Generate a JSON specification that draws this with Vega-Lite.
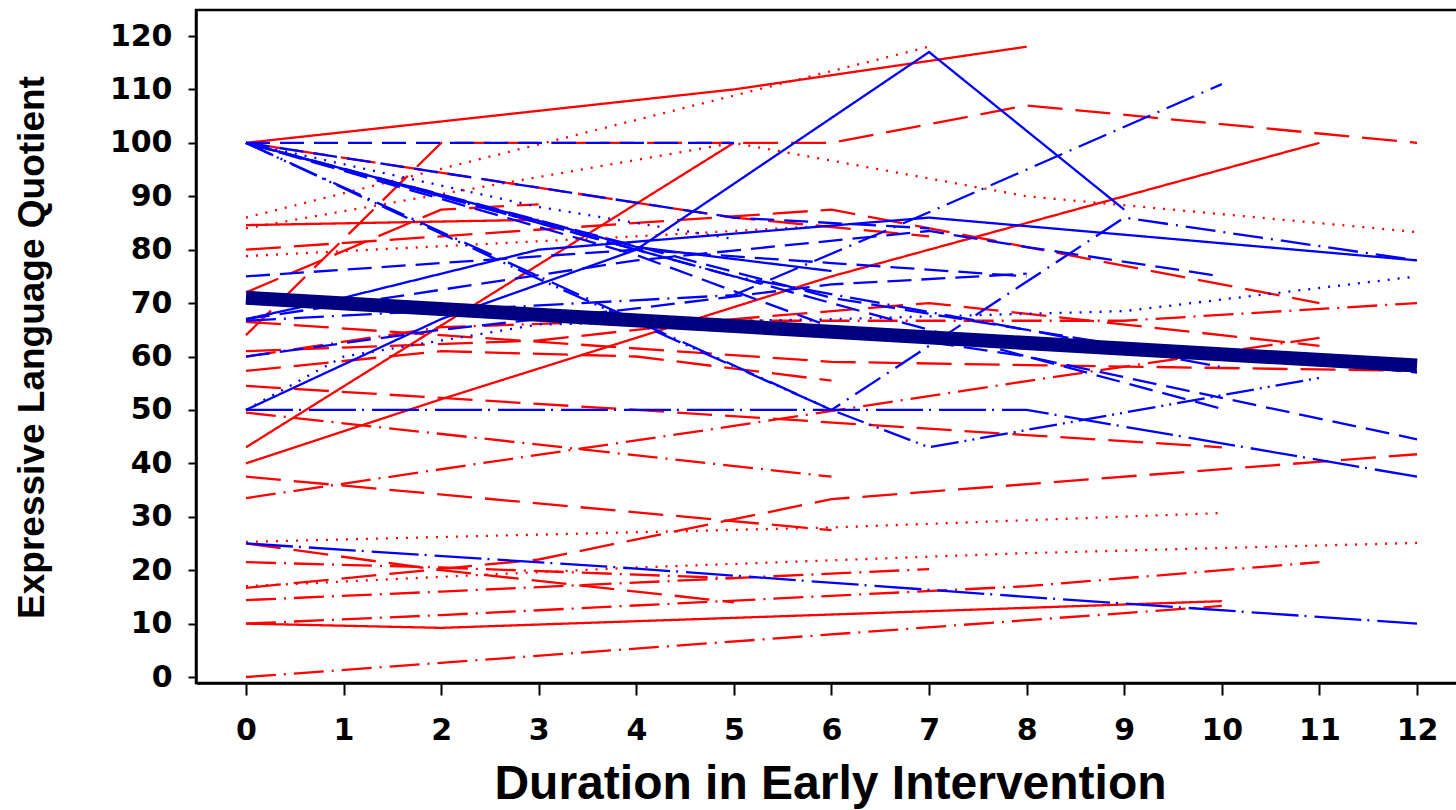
{
  "$schema": "https://vega.github.io/schema/vega-lite/v6.json",
  "width": 1262,
  "height": 673,
  "autosize": "none",
  "padding": {"left": 196, "top": 10, "right": 0, "bottom": 127},
  "background": "white",
  "config": {
    "view": {"stroke": "black", "strokeWidth": 2.5},
    "axis": {"grid": false, "domainColor": "black", "domainWidth": 2.5, "tickColor": "black", "tickWidth": 2, "labelFont": "DejaVu Sans", "labelFontWeight": "bold", "labelFontSize": 30, "labelColor": "black", "titleFont": "Liberation Sans", "titleFontWeight": "bold", "titleColor": "black"}
  },
  "datasets": {
    "mean": [
      {"x": 0, "y": 71}, {"x": 12, "y": 58.3}
    ],
    "kids": [
      {"id":"r1","g":"r","s":"solid","x":0,"y":100},{"id":"r1","g":"r","s":"solid","x":5,"y":110},{"id":"r1","g":"r","s":"solid","x":8,"y":118},
      {"id":"r2","g":"r","s":"dot","x":0,"y":86},{"id":"r2","g":"r","s":"dot","x":7,"y":118},
      {"id":"r3","g":"r","s":"dash","x":0,"y":64},{"id":"r3","g":"r","s":"dash","x":2,"y":100},{"id":"r3","g":"r","s":"dash","x":6,"y":100},{"id":"r3","g":"r","s":"dash","x":8,"y":107},{"id":"r3","g":"r","s":"dash","x":12,"y":100},
      {"id":"r4","g":"r","s":"solid","x":0,"y":43},{"id":"r4","g":"r","s":"solid","x":5,"y":100},
      {"id":"r5","g":"r","s":"solid","x":0,"y":40},{"id":"r5","g":"r","s":"solid","x":2,"y":52},{"id":"r5","g":"r","s":"solid","x":6,"y":75},{"id":"r5","g":"r","s":"solid","x":8,"y":85},{"id":"r5","g":"r","s":"solid","x":11,"y":100},
      {"id":"r6","g":"r","s":"dot","x":0,"y":84},{"id":"r6","g":"r","s":"dot","x":5,"y":100},{"id":"r6","g":"r","s":"dot","x":8,"y":90},{"id":"r6","g":"r","s":"dot","x":12,"y":83.3},
      {"id":"r7","g":"r","s":"solid","x":0,"y":84.6},{"id":"r7","g":"r","s":"solid","x":3,"y":85.6},
      {"id":"r8","g":"r","s":"dash","x":0,"y":80},{"id":"r8","g":"r","s":"dash","x":6,"y":87.5},{"id":"r8","g":"r","s":"dash","x":11,"y":70},
      {"id":"r9","g":"r","s":"dash","x":0,"y":100},{"id":"r9","g":"r","s":"dash","x":5,"y":86},{"id":"r9","g":"r","s":"dash","x":7,"y":82.5},
      {"id":"r10","g":"r","s":"dashdot","x":0,"y":49.5},{"id":"r10","g":"r","s":"dashdot","x":6,"y":37.5},
      {"id":"r11","g":"r","s":"dash","x":0,"y":37.5},{"id":"r11","g":"r","s":"dash","x":6,"y":27.5},
      {"id":"r12","g":"r","s":"dashdot","x":0,"y":33.5},{"id":"r12","g":"r","s":"dashdot","x":5,"y":47},{"id":"r12","g":"r","s":"dashdot","x":8,"y":55.4},{"id":"r12","g":"r","s":"dashdot","x":11,"y":63.5},
      {"id":"r13","g":"r","s":"dot","x":0,"y":25.3},{"id":"r13","g":"r","s":"dot","x":6,"y":28},{"id":"r13","g":"r","s":"dot","x":10,"y":30.7},
      {"id":"r14","g":"r","s":"dash","x":0,"y":25},{"id":"r14","g":"r","s":"dash","x":2,"y":20},{"id":"r14","g":"r","s":"dash","x":5,"y":14},
      {"id":"r15","g":"r","s":"dashdot","x":0,"y":14.4},{"id":"r15","g":"r","s":"dashdot","x":2,"y":16},{"id":"r15","g":"r","s":"dashdot","x":7,"y":20.2},
      {"id":"r16","g":"r","s":"dot","x":0,"y":17},{"id":"r16","g":"r","s":"dot","x":4,"y":20.5},{"id":"r16","g":"r","s":"dot","x":8,"y":23.2},{"id":"r16","g":"r","s":"dot","x":12,"y":25.1},
      {"id":"r17","g":"r","s":"dash","x":0,"y":16.7},{"id":"r17","g":"r","s":"dash","x":3,"y":22},{"id":"r17","g":"r","s":"dash","x":6,"y":33.3},{"id":"r17","g":"r","s":"dash","x":12,"y":41.7},
      {"id":"r18","g":"r","s":"dashdot","x":0,"y":10},{"id":"r18","g":"r","s":"dashdot","x":2,"y":11.6},{"id":"r18","g":"r","s":"dashdot","x":8,"y":17},{"id":"r18","g":"r","s":"dashdot","x":11,"y":21.5},
      {"id":"r19","g":"r","s":"dashdot","x":0,"y":21.5},{"id":"r19","g":"r","s":"dashdot","x":2,"y":20.5},{"id":"r19","g":"r","s":"dashdot","x":5,"y":18.5},
      {"id":"r20","g":"r","s":"solid","x":0,"y":10},{"id":"r20","g":"r","s":"solid","x":2,"y":9.2},{"id":"r20","g":"r","s":"solid","x":10,"y":14.2},
      {"id":"r21","g":"r","s":"dashdot","x":0,"y":0},{"id":"r21","g":"r","s":"dashdot","x":10,"y":13.3},
      {"id":"r22","g":"r","s":"dash","x":0,"y":66.5},{"id":"r22","g":"r","s":"dash","x":6,"y":59},{"id":"r22","g":"r","s":"dash","x":8,"y":58.4},{"id":"r22","g":"r","s":"dash","x":12,"y":57.3},
      {"id":"r23","g":"r","s":"dash","x":0,"y":54.5},{"id":"r23","g":"r","s":"dash","x":4,"y":50},{"id":"r23","g":"r","s":"dash","x":8,"y":45.3},{"id":"r23","g":"r","s":"dash","x":10,"y":43},
      {"id":"r24","g":"r","s":"dash","x":0,"y":57.3},{"id":"r24","g":"r","s":"dash","x":2,"y":61},{"id":"r24","g":"r","s":"dash","x":4,"y":60},{"id":"r24","g":"r","s":"dash","x":6,"y":55.5},
      {"id":"r25","g":"r","s":"dashdot","x":0,"y":60},{"id":"r25","g":"r","s":"dashdot","x":2,"y":65.5},{"id":"r25","g":"r","s":"dashdot","x":4,"y":66.7},{"id":"r25","g":"r","s":"dashdot","x":9,"y":66.7},{"id":"r25","g":"r","s":"dashdot","x":12,"y":70},
      {"id":"r26","g":"r","s":"dash","x":0,"y":61},{"id":"r26","g":"r","s":"dash","x":3,"y":63},{"id":"r26","g":"r","s":"dash","x":5,"y":67},{"id":"r26","g":"r","s":"dash","x":7,"y":70},{"id":"r26","g":"r","s":"dash","x":11,"y":62},
      {"id":"r27","g":"r","s":"dash","x":0,"y":72},{"id":"r27","g":"r","s":"dash","x":2,"y":87.5},{"id":"r27","g":"r","s":"dash","x":3,"y":88.5},
      {"id":"r28","g":"r","s":"dot","x":0,"y":78.8},{"id":"r28","g":"r","s":"dot","x":4,"y":82.5},{"id":"r28","g":"r","s":"dot","x":6,"y":84.5},
      {"id":"b1","g":"b","s":"bdash","x":0,"y":100},{"id":"b1","g":"b","s":"bdash","x":5,"y":100},
      {"id":"b2","g":"b","s":"bdash","x":0,"y":100},{"id":"b2","g":"b","s":"bdash","x":5,"y":86},{"id":"b2","g":"b","s":"bdash","x":7,"y":84},
      {"id":"b3","g":"b","s":"solid","x":0,"y":100},{"id":"b3","g":"b","s":"solid","x":4,"y":80.5},{"id":"b3","g":"b","s":"solid","x":6,"y":76},
      {"id":"b4","g":"b","s":"dashdot","x":0,"y":100},{"id":"b4","g":"b","s":"dashdot","x":3,"y":75},{"id":"b4","g":"b","s":"dashdot","x":6,"y":50},{"id":"b4","g":"b","s":"dashdot","x":9,"y":86},{"id":"b4","g":"b","s":"dashdot","x":12,"y":78},
      {"id":"b5","g":"b","s":"dashdotdot","x":0,"y":100},{"id":"b5","g":"b","s":"dashdotdot","x":3,"y":74.5},{"id":"b5","g":"b","s":"dashdotdot","x":6,"y":50},{"id":"b5","g":"b","s":"dashdotdot","x":7,"y":43},{"id":"b5","g":"b","s":"dashdotdot","x":11,"y":56},
      {"id":"b6","g":"b","s":"bdash","x":0,"y":100},{"id":"b6","g":"b","s":"bdash","x":8,"y":60},{"id":"b6","g":"b","s":"bdash","x":12,"y":44.5},
      {"id":"b7","g":"b","s":"bdash","x":0,"y":100},{"id":"b7","g":"b","s":"bdash","x":6,"y":71},{"id":"b7","g":"b","s":"bdash","x":9,"y":62},{"id":"b7","g":"b","s":"bdash","x":12,"y":57},
      {"id":"b8","g":"b","s":"dashdot","x":0,"y":100},{"id":"b8","g":"b","s":"dashdot","x":5,"y":75},{"id":"b8","g":"b","s":"dashdot","x":8,"y":65},{"id":"b8","g":"b","s":"dashdot","x":10,"y":58},
      {"id":"b9","g":"b","s":"bdash","x":0,"y":100},{"id":"b9","g":"b","s":"bdash","x":4,"y":79},{"id":"b9","g":"b","s":"bdash","x":6,"y":65.5},{"id":"b9","g":"b","s":"bdash","x":8,"y":60},{"id":"b9","g":"b","s":"bdash","x":10,"y":50.2},
      {"id":"b10","g":"b","s":"bdash","x":0,"y":75},{"id":"b10","g":"b","s":"bdash","x":4,"y":80},{"id":"b10","g":"b","s":"bdash","x":6,"y":77.5},{"id":"b10","g":"b","s":"bdash","x":8,"y":75},
      {"id":"b11","g":"b","s":"bdash","x":0,"y":67},{"id":"b11","g":"b","s":"bdash","x":2,"y":72.5},{"id":"b11","g":"b","s":"bdash","x":4,"y":78},{"id":"b11","g":"b","s":"bdash","x":7,"y":83.5},{"id":"b11","g":"b","s":"bdash","x":8,"y":80.5},{"id":"b11","g":"b","s":"bdash","x":10,"y":75},
      {"id":"b12","g":"b","s":"bdash","x":0,"y":60},{"id":"b12","g":"b","s":"bdash","x":2,"y":65},{"id":"b12","g":"b","s":"bdash","x":4,"y":69},{"id":"b12","g":"b","s":"bdash","x":6,"y":73.5},{"id":"b12","g":"b","s":"bdash","x":8,"y":75.5},
      {"id":"b13","g":"b","s":"dot","x":0,"y":50},{"id":"b13","g":"b","s":"dot","x":1,"y":60},{"id":"b13","g":"b","s":"dot","x":3,"y":66},{"id":"b13","g":"b","s":"dot","x":6,"y":67},{"id":"b13","g":"b","s":"dot","x":9,"y":68.5},{"id":"b13","g":"b","s":"dot","x":12,"y":75},
      {"id":"b14","g":"b","s":"dot","x":0,"y":100},{"id":"b14","g":"b","s":"dot","x":3,"y":88},{"id":"b14","g":"b","s":"dot","x":5,"y":82},
      {"id":"b15","g":"b","s":"ldashdot","x":0,"y":50},{"id":"b15","g":"b","s":"ldashdot","x":8,"y":50},{"id":"b15","g":"b","s":"ldashdot","x":12,"y":37.5},
      {"id":"b16","g":"b","s":"solid","x":0,"y":50},{"id":"b16","g":"b","s":"solid","x":2,"y":67},{"id":"b16","g":"b","s":"solid","x":4,"y":80},{"id":"b16","g":"b","s":"solid","x":7,"y":117},{"id":"b16","g":"b","s":"solid","x":9,"y":87.5},
      {"id":"b17","g":"b","s":"solid","x":0,"y":67},{"id":"b17","g":"b","s":"solid","x":1,"y":71},{"id":"b17","g":"b","s":"solid","x":3,"y":80},{"id":"b17","g":"b","s":"solid","x":7,"y":86},{"id":"b17","g":"b","s":"solid","x":12,"y":78},
      {"id":"b18","g":"b","s":"ldashdot","x":0,"y":25},{"id":"b18","g":"b","s":"ldashdot","x":4,"y":20.3},{"id":"b18","g":"b","s":"ldashdot","x":8,"y":15},{"id":"b18","g":"b","s":"ldashdot","x":12,"y":10},
      {"id":"b19","g":"b","s":"dashdot","x":0,"y":66.7},{"id":"b19","g":"b","s":"dashdot","x":5,"y":71.5},{"id":"b19","g":"b","s":"dashdot","x":7,"y":87},{"id":"b19","g":"b","s":"dashdot","x":10,"y":111}
    ]
  },
  "layer": [
    {
      "data": {"name": "kids"},
      "mark": {"type": "line", "strokeWidth": 2.3, "clip": true, "strokeCap": "butt"},
      "encoding": {
        "x": {"field": "x", "type": "quantitative", "scale": {"domain": [-0.512, 12.42], "nice": false, "zero": false},
              "axis": {"values": [0,1,2,3,4,5,6,7,8,9,10,11,12], "format": "d", "tickSize": 12, "labelPadding": 20, "title": "Duration in Early Intervention", "titleFontSize": 48, "titleX": 634, "titleY": 115, "titleAnchor": null, "titleBaseline": "alphabetic", "titleAlign": "center"}},
        "y": {"field": "y", "type": "quantitative", "scale": {"domain": [-1.12, 124.87], "nice": false, "zero": false},
              "axis": {"values": [0,10,20,30,40,50,60,70,80,90,100,110,120], "format": "d", "tickSize": 8, "labelPadding": 16, "title": "Expressive Language Quotient", "titleFontSize": 37, "titleX": -164, "titleY": 337, "titleAngle": -90, "titleBaseline": "middle", "titleAlign": "center"}},
        "detail": {"field": "id"},
        "color": {"field": "g", "type": "nominal", "scale": {"domain": ["r", "b"], "range": ["#ff0000", "#0000ff"]}, "legend": null},
        "strokeDash": {"field": "s", "type": "nominal", "scale": {"domain": ["solid", "dash", "bdash", "dot", "dashdot", "ldashdot", "dashdotdot"], "range": [[1, 0], [35, 13], [24, 10], [2, 8], [30, 8, 2, 8], [47, 6, 2, 8], [28, 6, 2, 6, 2, 6]]}, "legend": null}
      }
    },
    {
      "data": {"name": "mean"},
      "mark": {"type": "line", "strokeWidth": 14, "color": "#000080", "clip": true, "strokeCap": "butt"},
      "encoding": {
        "x": {"field": "x", "type": "quantitative"},
        "y": {"field": "y", "type": "quantitative"}
      }
    }
  ]
}
